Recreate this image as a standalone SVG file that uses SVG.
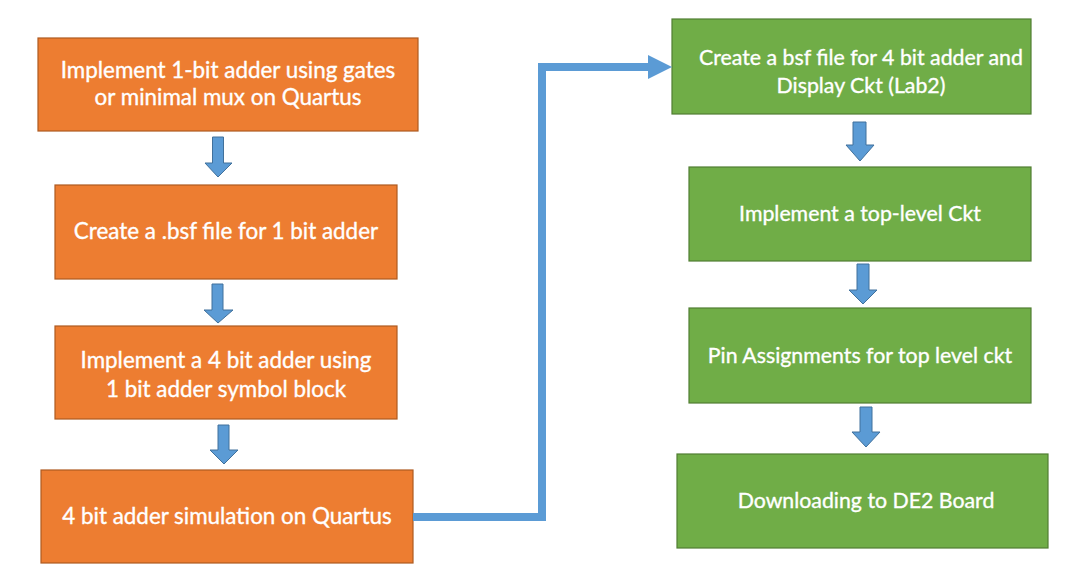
<svg xmlns="http://www.w3.org/2000/svg" width="1080" height="576" viewBox="0 0 1080 576">
<style>
.o{fill:#ED7D31;stroke:#AE5A21;stroke-width:1.2}
.g{fill:#70AD47;stroke:#507E32;stroke-width:1.2}
.t{fill:#ffffff;stroke:#ffffff;stroke-width:0.35;font-family:Lato,"Open Sans","Liberation Sans",sans-serif;font-size:21.3px;text-anchor:middle}
.to{font-size:22.4px}
.ba{fill:#5B9BD5;stroke:#41719C;stroke-width:1}
.conn{fill:none;stroke:#5B9BD5;stroke-width:8}
</style>
<rect width="1080" height="576" fill="#ffffff"/>
<g id="n1"><rect class="o" x="38" y="38" width="380" height="93"/><text class="t to" x="228" y="78">Implement 1-bit adder using gates</text><text class="t to" x="228" y="105">or minimal mux on Quartus</text></g>
<g id="n2"><rect class="o" x="55" y="185" width="342" height="94"/><text class="t to" x="226" y="239">Create a .bsf file for 1 bit adder</text></g>
<g id="n3"><rect class="o" x="55" y="326" width="342" height="93"/><text class="t to" x="226" y="368">Implement a 4 bit adder using</text><text class="t to" x="226" y="397">1 bit adder symbol block</text></g>
<g id="n4"><rect class="o" x="41" y="470" width="372" height="93"/><text class="t to" x="227" y="524">4 bit adder simulation on Quartus</text></g>
<g id="n5"><rect class="g" x="672" y="19" width="359" height="95"/><text class="t" x="861" y="65">Create a bsf file for 4 bit adder and</text><text class="t" x="861" y="93">Display Ckt (Lab2)</text></g>
<g id="n6"><rect class="g" x="689" y="167" width="342" height="94"/><text class="t" x="860" y="221">Implement a top-level Ckt</text></g>
<g id="n7"><rect class="g" x="689" y="308" width="342" height="95"/><text class="t" x="860" y="363">Pin Assignments for top level ckt</text></g>
<g id="n8"><rect class="g" x="677" y="454" width="371" height="94"/><text class="t" x="866" y="508">Downloading to DE2 Board</text></g>
<g id="connectors">
<polygon class="ba" points="212.5,137 223.5,137 223.5,163 232,163 218,177 205,163 212.5,163"/>
<polygon class="ba" points="212,284 223,284 223,310 233,310 218,323 204,310 212,310"/>
<polygon class="ba" points="218,425 229,425 229,450 238,450 224,464 210,450 218,450"/>
<polygon class="ba" points="853,122 866,122 866,145 874,145 860,161 846,145 853,145"/>
<polygon class="ba" points="857,264 869,264 869,290 877,290 863,304 849,290 857,290"/>
<polygon class="ba" points="860,407 872,407 872,432 880,432 866,447 852,432 860,432"/>
<path class="conn" d="M413,517 H542 V67 H650"/>
<polygon fill="#5B9BD5" points="648,55 672,67 648,79"/>
</g>
</svg>
